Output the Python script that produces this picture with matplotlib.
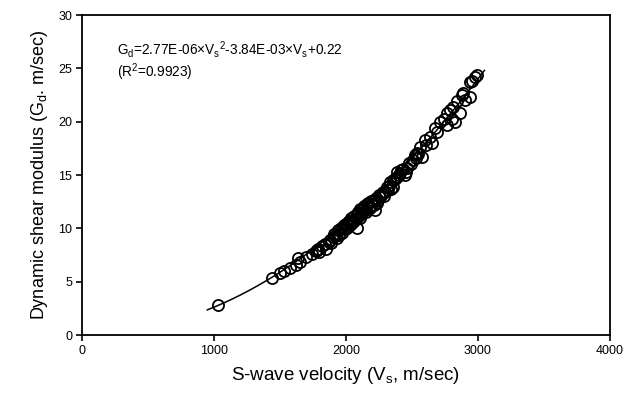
import numpy as np
import matplotlib
matplotlib.use("Agg")
import matplotlib.pyplot as plt

plt.rcParams['font.family'] = ['Liberation Sans', 'DejaVu Sans']
plt.rcParams['mathtext.fontset'] = 'custom'
plt.rcParams['mathtext.rm'] = 'Liberation Sans'
plt.rcParams['mathtext.it'] = 'Liberation Sans'

# Measured data (S-wave velocity vs dynamic shear modulus)
vs = [1030, 1440, 1500, 1530, 1575, 1625, 1636, 1650, 1700, 1740, 1770, 1780, 1790,
      1800, 1820, 1840, 1850, 1870, 1880, 1900, 1910, 1930, 1940, 1960, 1970,
      1985, 2000, 2010, 2020, 2040, 2050, 2060, 2075, 2083, 2090, 2100, 2110,
      2120, 2140, 2150, 2160, 2175, 2190, 2200, 2220, 2230, 2235, 2250, 2260,
      2280, 2290, 2310, 2320, 2335, 2356, 2370, 2386, 2400, 2420, 2447, 2462,
      2480, 2508, 2520, 2538, 2561, 2575, 2598, 2610, 2636, 2652, 2674, 2690,
      2712, 2740, 2765, 2770, 2788, 2803, 2811, 2826, 2841, 2864, 2879, 2886,
      2900, 2939, 2940, 2955, 2977, 2992,
      1890, 1920, 1950, 1975, 1995, 2015, 2030, 2045, 2065, 2085, 2105, 2125,
      2135, 2155, 2170, 2185, 2205, 2215, 2245, 2270, 2300, 2330, 2345, 2360,
      2390, 2410, 2435, 2455, 2490, 2530, 2550]
gd = [2.8, 5.3, 5.8, 6.0, 6.3, 6.6, 7.2, 6.8, 7.3, 7.6, 7.9, 8.0, 8.1,
      7.8, 8.3, 8.5, 8.1, 8.7, 8.9, 9.2, 9.5, 9.1, 9.8, 10.0, 9.6,
      10.3, 10.4, 10.0, 10.7, 11.0, 10.5, 11.2, 10.9, 10.0, 11.5, 11.2, 11.8,
      11.4, 12.1, 11.7, 12.3, 12.0, 12.6, 12.2, 11.7, 12.8, 12.4, 13.1, 12.9,
      13.4, 13.0, 13.9, 13.6, 14.3, 13.9, 14.6, 15.3, 15.0, 15.5, 15.0, 15.7,
      16.1, 16.4, 16.9, 17.1, 17.6, 16.7, 18.3, 17.8, 18.6, 18.0, 19.4, 19.0,
      20.0, 20.3, 20.8, 19.7, 21.1, 20.3, 21.4, 20.0, 21.9, 20.8, 22.5, 22.7,
      22.0, 22.3, 23.7, 23.8, 24.2, 24.4,
      8.6, 9.3, 9.4, 10.1, 9.9, 10.6, 10.3, 10.8, 10.7, 11.3, 11.0, 11.7,
      11.9, 11.5, 12.4, 11.9, 12.6, 12.2, 12.7, 13.2, 13.4, 14.0, 13.7, 14.5,
      14.8, 15.2, 15.6, 15.3, 16.0, 16.6, 17.0]

# Regression curve coefficients (a*V^2 + b*V + c) and range
fit_coef = [2.77e-6, -3.84e-4, 0.22]
fit_range = [950, 3050]

x_ticks = [0, 1000, 2000, 3000, 4000]
y_ticks = [0, 5, 10, 15, 20, 25, 30]

fig = plt.figure(figsize=(6.3, 3.96), dpi=100)
ax = fig.add_axes([0.130, 0.154, 0.838, 0.808])

vfit = np.linspace(fit_range[0], fit_range[1], 200)
ax.plot(vfit, np.polyval(fit_coef, vfit), color='black', lw=1.1, zorder=2)
ax.plot(vs, gd, 'o', mfc='none', mec='black', ms=8, mew=1.3, zorder=3)

ax.set_xlim(0, 4000)
ax.set_ylim(0, 30)
ax.set_xticks(x_ticks)
ax.set_yticks(y_ticks)
ax.tick_params(direction='out', length=4, width=1.2, labelsize=9, pad=3)
for s in ax.spines.values():
    s.set_linewidth(1.3)

ax.set_xlabel('S-wave velocity (V$_\\mathregular{s}$, m/sec)', fontsize=13.5, labelpad=6)
ax.set_ylabel('Dynamic shear modulus (G$_\\mathregular{d}$. m/sec)', fontsize=13, labelpad=6)

ax.text(0.066, 0.925,
        'G$_\\mathregular{d}$=2.77E-06\u00d7V$_\\mathregular{s}$$^\\mathregular{2}$-3.84E-03\u00d7V$_\\mathregular{s}$+0.22\n(R$^\\mathregular{2}$=0.9923)',
        transform=ax.transAxes, fontsize=9.8, va='top', ha='left', linespacing=1.1)

fig.savefig('out.png', dpi=100)
